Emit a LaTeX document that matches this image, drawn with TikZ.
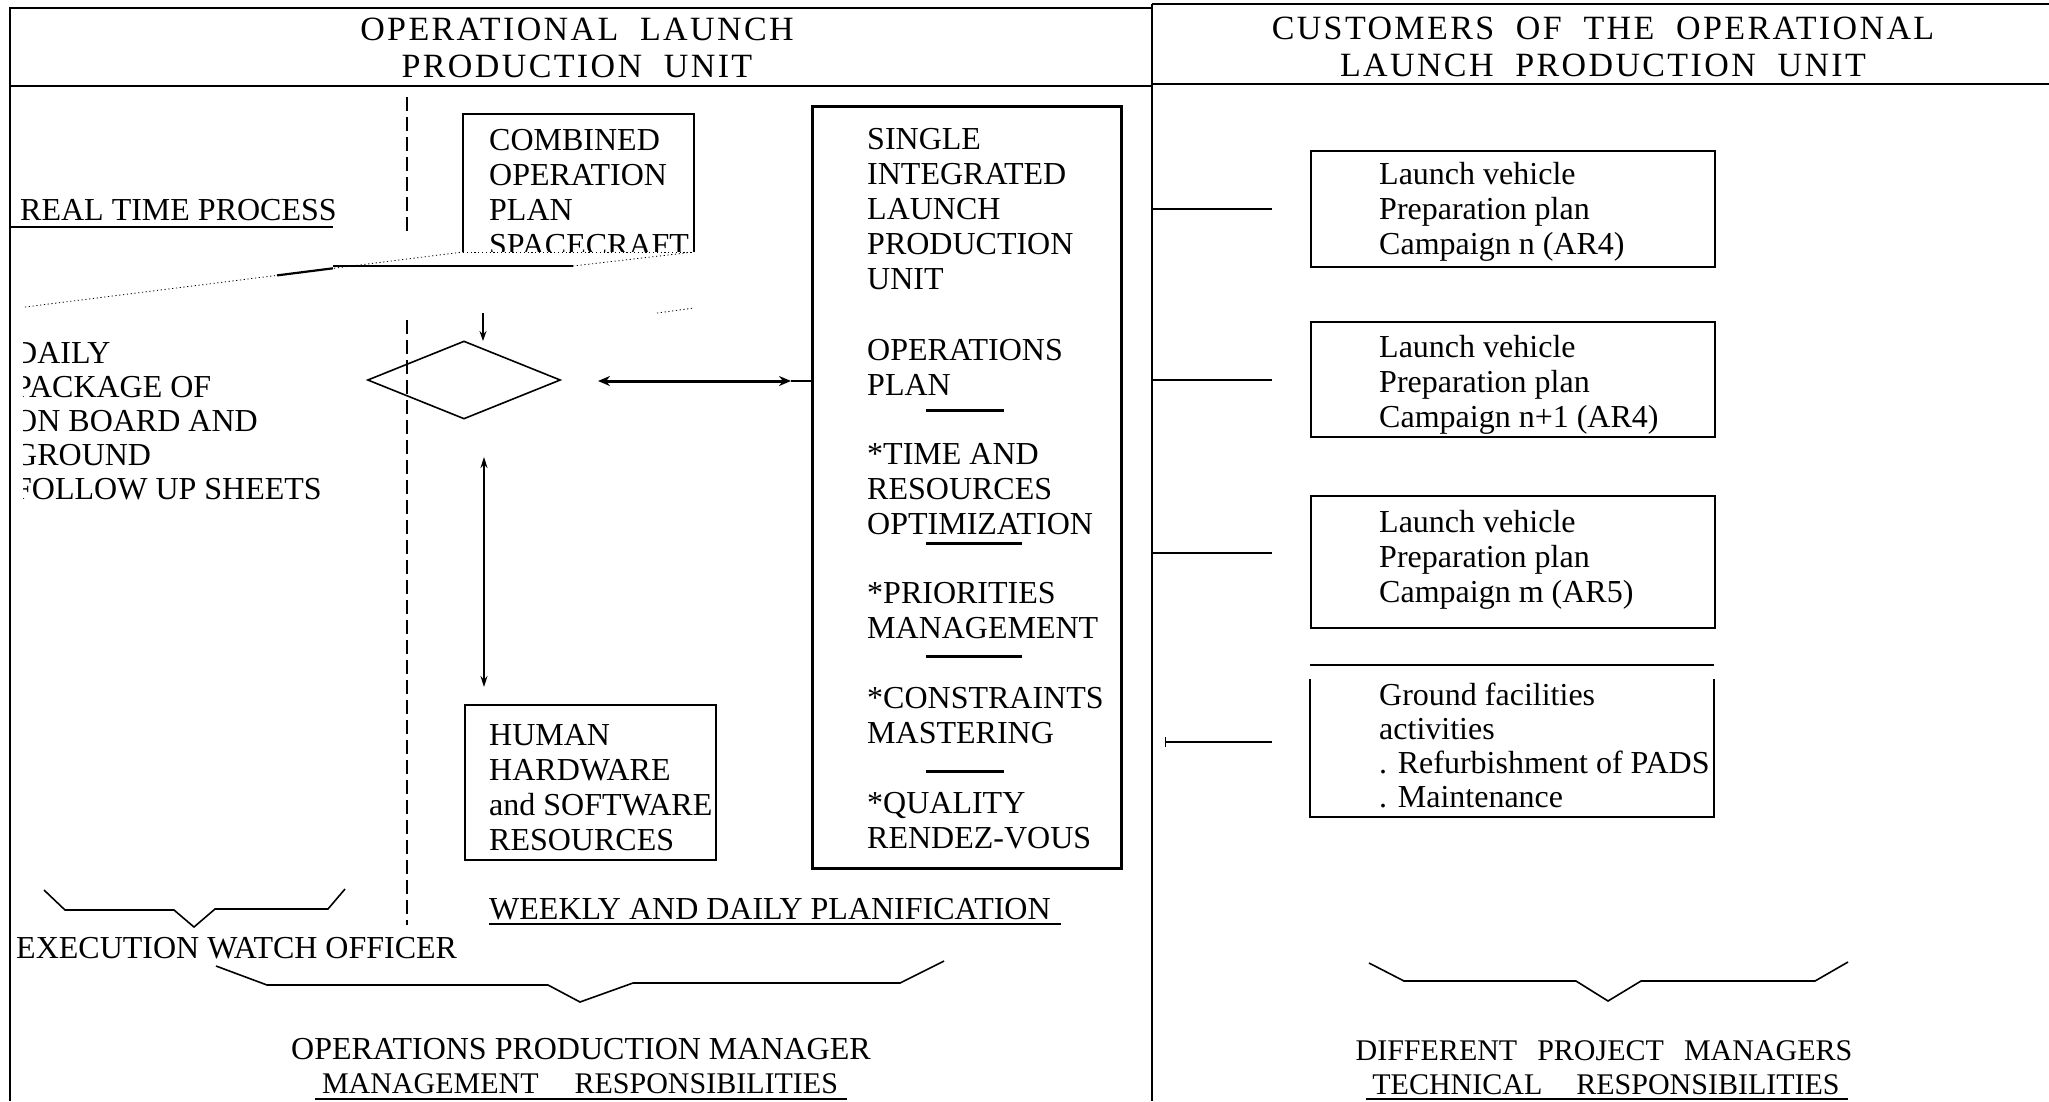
\documentclass[tikz,border=0pt]{standalone}
\usepackage{fontspec}
\setmainfont{Liberation Serif}
\newfontfamily\hdrfont[LetterSpace=7]{Liberation Serif}
\usetikzlibrary{arrows.meta,shapes.geometric}
\newcommand\fbody{\fontsize{32}{35}\selectfont}
\newcommand\fdaily{\fontsize{32}{34}\selectfont}
\newcommand\fhdr{\hdrfont\fontsize{34}{37}\selectfont}
\newcommand\fbot{\fontsize{30}{33}\selectfont}
\newcommand\fbotb{\fontsize{32}{35}\selectfont}
\newcommand\stru{\rule{0pt}{25pt}}
\begin{document}
\begin{tikzpicture}[x=1pt,y=-1pt,
  frm/.style={line width=2.5pt},
  bx/.style={draw, line width=2pt, inner sep=0pt, anchor=north west},
  blk/.style={anchor=north west, inner sep=0pt, align=left, font=\fbody},
  lbl/.style={anchor=base west, inner sep=0pt, font=\fbody},
  hdr/.style={anchor=base, inner sep=0pt, font=\fhdr},
  bot/.style={anchor=base, inner sep=0pt, font=\fbot},
  dotl/.style={line width=0.8pt, dash pattern=on 1.2pt off 2.6pt},
  dashv/.style={line width=1.4pt, dash pattern=on 14pt off 6pt},
  sepl/.style={line width=3pt},
  brc/.style={line width=1.6pt, line join=miter},
  ul/.style={line width=2pt},
  stub/.style={line width=2.5pt}
]
\useasboundingbox (0,0) rectangle (2049,1101);
\fill[white] (0,0) rectangle (2049,1101);

% ---------- frame ----------
\coordinate (fl-top) at (10,8);
\coordinate (fl-bot) at (10,1101);
\coordinate (dv-top) at (1152,4);
\coordinate (dv-bot) at (1152,1101);
\coordinate (fr-top) at (2049,4);
\draw[frm] (fl-bot) -- (fl-top) -- (dv-top |- fl-top);
\draw[frm] (dv-top) -- (fr-top);
\draw[frm] (dv-top) -- (dv-bot);
\coordinate (hl-a) at (10,86);
\coordinate (hl-b) at (1152,86);
\coordinate (hr-a) at (1152,84);
\coordinate (hr-b) at (2049,84);
\draw[frm] (hl-a) -- (hl-b);
\draw[frm] (hr-a) -- (hr-b);

% ---------- headers ----------
\node[hdr] (hl1) at (577,40) {OPERATIONAL\ \ LAUNCH};
\node[hdr] (hl2) at (577,77) {PRODUCTION\ \ UNIT};
\node[hdr] (hr1) at (1603,39) {CUSTOMERS\ \ OF\ \ THE\ \ OPERATIONAL};
\node[hdr] (hr2) at (1603,76) {LAUNCH\ \ PRODUCTION\ \ UNIT};

% ---------- left side texts ----------
\node[lbl] (rtp) at (20,220) {REAL TIME PROCESS};
\draw[ul] (10,227) -- (333,227);

\begin{scope}
\clip (23,300) rectangle (400,520);
\node[blk, font=\fdaily] (daily) at (14,338)
  {\stru DAILY\\PACKAGE OF\\ON BOARD AND\\GROUND\\FOLLOW UP SHEETS};
\end{scope}

% dashed separator
\coordinate (dsh1a) at (407,97);
\coordinate (dsh1b) at (407,237);
\coordinate (dsh2a) at (407,320);
\coordinate (dsh2b) at (407,925);
\draw[dashv] (dsh1a) -- (dsh1b);
\draw[dashv] (dsh2a) -- (dsh2b);

% combined operation plan box (open at bottom)
\coordinate (cb-bl) at (463,252);
\coordinate (cb-tl) at (463,114);
\coordinate (cb-tr) at (694,114);
\coordinate (cb-br) at (694,252);
\draw[line width=2pt] (cb-bl) -- (cb-tl) -- (cb-tr) -- (cb-br);
\begin{scope}
\clip (464,115) rectangle (693,251);
\node[blk] (comb) at (489,125) {\stru COMBINED\\OPERATION\\PLAN\\SPACECRAFT};
\end{scope}

% funnel lines under the box
\coordinate (fn-l) at (25,307);
\coordinate (fn-s1) at (277,275.4);
\coordinate (fn-s2) at (333,268.3);
\coordinate (fn-h1) at (333,266);
\coordinate (fn-h2) at (573,266);
\coordinate (fn-r1) at (657,313);
\coordinate (fn-r2) at (694,308);
\draw[dotl] (fn-l) -- (cb-bl);
\draw[line width=2.2pt] (fn-s1) -- (fn-s2);
\draw[line width=2.5pt] (fn-h1) -- (fn-h2);
\draw[dotl] (fn-h2) -- (cb-br);
\draw[dotl] (cb-bl) -- (cb-br);
\draw[dotl] (fn-r1) -- (fn-r2);

% diamond and arrows
\node[diamond, draw, line width=1.6pt, aspect=2.5, minimum width=193pt,
      minimum height=78pt, inner sep=0pt] (dia) at (464,380) {};
\coordinate (a1s) at (483,313);
\coordinate (a1e) at (483,341);
\draw[line width=1.3pt, -{Stealth[length=10pt,width=7pt]}] (a1s) -- (a1e);

\node[bx, line width=2.5pt, minimum width=309pt, minimum height=762pt] (single) at (811,105) {};
\coordinate (h1) at (598,381);
\coordinate (h2) at (791,381);
\draw[line width=3pt, {Stealth[length=12pt,width=10pt]}-{Stealth[length=12pt,width=10pt]}] (h1) -- (h2);
\draw[line width=1.8pt] (h2) -- (single.west |- h2);

\coordinate (v1) at (484,457);
\coordinate (v2) at (484,687);
\draw[line width=1.5pt, {Stealth[length=11pt,width=7pt]}-{Stealth[length=11pt,width=7pt]}] (v1) -- (v2);

% human hardware box
\node[bx, minimum width=251pt, minimum height=155pt] (human) at (464,704) {};
\begin{scope}
\clip (465,705) rectangle (715,858);
\node[blk] (humant) at (489,720) {\stru HUMAN\\HARDWARE\\and SOFTWARE\\RESOURCES};
\end{scope}

% single integrated box contents
\node[blk] (sil) at (867,124) {\stru SINGLE\\INTEGRATED\\LAUNCH\\PRODUCTION\\UNIT};
\node[blk] (opl) at (867,335) {\stru OPERATIONS\\PLAN};
\draw[sepl] (926,410) -- (1004,410);
\node[blk] (tro) at (867,439) {\stru *TIME AND\\RESOURCES\\OPTIMIZATION};
\draw[sepl] (926,543) -- (1022,543);
\node[blk] (pm) at (867,578) {\stru *PRIORITIES\\MANAGEMENT};
\draw[sepl] (926,656) -- (1022,656);
\node[blk] (cm) at (867,683) {\stru *CONSTRAINTS\\MASTERING};
\draw[sepl] (926,771) -- (1004,771);
\node[blk] (qr) at (867,788) {\stru *QUALITY\\RENDEZ-VOUS};

% bottom left braces and texts
\coordinate (b1a) at (44,890);  \coordinate (b1b) at (65,910);
\coordinate (b1c) at (174,910); \coordinate (b1d) at (194,927);
\coordinate (b1e) at (215,909); \coordinate (b1f) at (328,909);
\coordinate (b1g) at (345,889);
\draw[brc] (b1a) -- (b1b) -- (b1c) -- (b1d) -- (b1e) -- (b1f) -- (b1g);

\node[lbl] (ewo) at (16,958) {EXECUTION WATCH OFFICER};
\node[lbl] (wdp) at (489,919) {WEEKLY AND DAILY PLANIFICATION};
\draw[ul] (489,924) -- (1061,924);

\coordinate (b2a) at (216,966);  \coordinate (b2b) at (267,985);
\coordinate (b2c) at (548,985);  \coordinate (b2d) at (580,1002);
\coordinate (b2e) at (633,983);  \coordinate (b2f) at (900,983);
\coordinate (b2g) at (944,961);
\draw[brc] (b2a) -- (b2b) -- (b2c) -- (b2d) -- (b2e) -- (b2f) -- (b2g);

\node[bot, font=\fbotb] (opm) at (581,1059) {OPERATIONS PRODUCTION MANAGER};
\node[bot] (mgr) at (580,1093) {MANAGEMENT\hspace{36pt}RESPONSIBILITIES};
\draw[ul] (315,1099) -- (847,1099);

% ---------- right side ----------
\node[bx, minimum width=404pt, minimum height=116pt] (lvb1) at (1310,150) {};
\node[bx, minimum width=404pt, minimum height=115pt] (lvb2) at (1310,321) {};
\node[bx, minimum width=404pt, minimum height=132pt] (lvb3) at (1310,495) {};
\node[blk] (lvt1) at (1379,159) {\stru Launch vehicle\\Preparation plan\\Campaign n (AR4)};
\node[blk] (lvt2) at (1379,332) {\stru Launch vehicle\\Preparation plan\\Campaign n+1 (AR4)};
\node[blk] (lvt3) at (1379,507) {\stru Launch vehicle\\Preparation plan\\Campaign m (AR5)};

\coordinate (g-t1) at (1310,665); \coordinate (g-t2) at (1714,665);
\coordinate (g-l) at (1310,679);  \coordinate (g-bl) at (1310,817);
\coordinate (g-br) at (1714,817); \coordinate (g-r) at (1714,679);
\draw[line width=2pt] (g-t1) -- (g-t2);
\draw[line width=2pt] (g-l) -- (g-bl) -- (g-br) -- (g-r);
\node[blk, font=\fdaily] (gft) at (1379,680)
  {\stru Ground facilities\\activities\\. Refurbishment of PADS\\. Maintenance};

\coordinate (s1a) at (1152,209); \coordinate (s1b) at (1272,209);
\coordinate (s2a) at (1152,380); \coordinate (s2b) at (1272,380);
\coordinate (s3a) at (1152,553); \coordinate (s3b) at (1272,553);
\coordinate (s4a) at (1165,742); \coordinate (s4b) at (1272,742);
\draw[stub] (s1a) -- (s1b);
\draw[stub] (s2a) -- (s2b);
\draw[stub] (s3a) -- (s3b);
\draw[line width=1.2pt, {Bar[width=10pt]}-] (s4a) -- (s4b);

\coordinate (b3a) at (1369,963);  \coordinate (b3b) at (1404,981);
\coordinate (b3c) at (1576,981);  \coordinate (b3d) at (1608,1001);
\coordinate (b3e) at (1641,981);  \coordinate (b3f) at (1815,981);
\coordinate (b3g) at (1848,962);
\draw[brc] (b3a) -- (b3b) -- (b3c) -- (b3d) -- (b3e) -- (b3f) -- (b3g);

\node[bot] (dpm) at (1604,1060) {DIFFERENT\hspace{20pt}PROJECT\hspace{20pt}MANAGERS};
\node[bot] (tre) at (1606,1094) {TECHNICAL\hspace{34pt}RESPONSIBILITIES};
\draw[ul] (1366,1099) -- (1848,1099);
\end{tikzpicture}
\end{document}
